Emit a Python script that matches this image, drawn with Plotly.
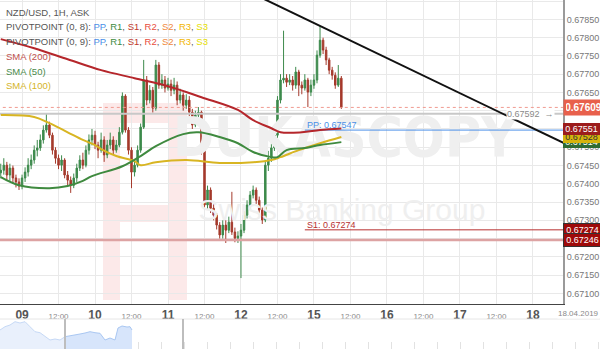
import plotly.graph_objects as go

# ---------------- data ----------------
hours = list(range(-7, 106))  # trading-hour index, 0 = 09 Apr 00:00 (weekend removed)

opens = [0.67430,0.67437,0.67451,0.67424,0.67443,0.67416,0.67405,
         0.67394,0.67416,0.67432,0.67451,0.67465,0.67492,0.67498,0.67520,0.67547,0.67561,
         0.67533,0.67492,0.67470,0.67451,0.67465,0.67424,0.67410,0.67396,0.67416,0.67443,
         0.67465,0.67451,0.67492,0.67520,0.67533,0.67506,0.67492,0.67520,0.67479,0.67506,
         0.67520,0.67492,0.67506,0.67541,0.67640,0.67547,0.67492,0.67432,0.67451,0.67492,
         0.67555,0.67684,0.67629,0.67656,0.67607,0.67725,0.67670,0.67684,0.67662,0.67673,
         0.67656,0.67670,0.67629,0.67643,0.67615,0.67629,0.67596,0.67561,0.67588,0.67596,
         0.67492,0.67342,0.67383,0.67333,0.67314,0.67287,0.67260,0.67287,0.67273,0.67295,
         0.67268,0.67251,0.67257,0.67273,0.67314,0.67342,0.67369,0.67383,0.67355,0.67328,
         0.67301,0.67451,0.67470,0.67498,0.67533,0.67629,0.67684,0.67689,0.67678,0.67684,
         0.67670,0.67706,0.67670,0.67662,0.67684,0.67651,0.67670,0.67684,0.67752,0.67793,
         0.67766,0.67739,0.67711,0.67697,0.67670,0.67689]
highs = [0.67455,0.67470,0.67460,0.67455,0.67450,0.67425,0.67415,
         0.67425,0.67445,0.67470,0.67480,0.67505,0.67520,0.67535,0.67560,0.67591,0.67570,
         0.67540,0.67500,0.67480,0.67478,0.67470,0.67435,0.67420,0.67428,0.67455,0.67478,
         0.67485,0.67505,0.67535,0.67550,0.67545,0.67515,0.67540,0.67530,0.67520,0.67540,
         0.67530,0.67520,0.67555,0.67650,0.67645,0.67555,0.67500,0.67465,0.67505,0.67565,
         0.67739,0.67695,0.67670,0.67665,0.67739,0.67733,0.67700,0.67695,0.67690,0.67685,
         0.67690,0.67680,0.67660,0.67650,0.67645,0.67640,0.67605,0.67600,0.67610,0.67600,
         0.67500,0.67395,0.67390,0.67345,0.67320,0.67295,0.67300,0.67300,0.67310,0.67378,
         0.67280,0.67270,0.67290,0.67325,0.67355,0.67380,0.67395,0.67390,0.67365,0.67335,
         0.67460,0.67490,0.67510,0.67545,0.67640,0.67700,0.67819,0.67700,0.67700,0.67695,
         0.67720,0.67712,0.67680,0.67700,0.67690,0.67685,0.67700,0.67765,0.67832,0.67800,
         0.67775,0.67745,0.67720,0.67705,0.67725,0.67695]
lows = [0.67415,0.67425,0.67410,0.67405,0.67400,0.67390,0.67383,
        0.67385,0.67405,0.67420,0.67440,0.67455,0.67475,0.67490,0.67510,0.67540,0.67525,
        0.67480,0.67455,0.67440,0.67435,0.67415,0.67395,0.67375,0.67388,0.67405,0.67435,
        0.67440,0.67445,0.67480,0.67505,0.67495,0.67470,0.67485,0.67460,0.67470,0.67495,
        0.67480,0.67485,0.67500,0.67535,0.67540,0.67480,0.67388,0.67420,0.67445,0.67485,
        0.67550,0.67615,0.67620,0.67595,0.67600,0.67660,0.67660,0.67650,0.67655,0.67640,
        0.67645,0.67615,0.67620,0.67600,0.67605,0.67585,0.67550,0.67555,0.67575,0.67480,
        0.67330,0.67330,0.67320,0.67300,0.67275,0.67250,0.67250,0.67238,0.67265,0.67260,
        0.67240,0.67238,0.67142,0.67265,0.67305,0.67330,0.67360,0.67345,0.67315,0.67290,
        0.67295,0.67435,0.67460,0.67490,0.67525,0.67620,0.67675,0.67665,0.67670,0.67655,
        0.67660,0.67640,0.67645,0.67655,0.67610,0.67640,0.67660,0.67675,0.67745,0.67755,
        0.67725,0.67700,0.67685,0.67660,0.67665,0.67605]
closes = [0.67437,0.67451,0.67424,0.67443,0.67416,0.67405,0.67394,
          0.67416,0.67432,0.67451,0.67465,0.67492,0.67498,0.67520,0.67547,0.67561,0.67533,
          0.67492,0.67470,0.67451,0.67465,0.67424,0.67410,0.67396,0.67416,0.67443,0.67465,
          0.67451,0.67492,0.67520,0.67533,0.67506,0.67492,0.67520,0.67479,0.67506,0.67520,
          0.67492,0.67506,0.67541,0.67640,0.67547,0.67492,0.67432,0.67451,0.67492,0.67555,
          0.67684,0.67629,0.67656,0.67607,0.67725,0.67670,0.67684,0.67662,0.67673,0.67656,
          0.67670,0.67629,0.67643,0.67615,0.67629,0.67596,0.67561,0.67588,0.67596,0.67492,
          0.67342,0.67383,0.67333,0.67314,0.67287,0.67260,0.67287,0.67273,0.67295,0.67268,
          0.67251,0.67257,0.67273,0.67314,0.67342,0.67369,0.67383,0.67355,0.67328,0.67301,
          0.67451,0.67470,0.67498,0.67533,0.67629,0.67684,0.67689,0.67678,0.67684,0.67670,
          0.67706,0.67670,0.67662,0.67684,0.67651,0.67670,0.67684,0.67752,0.67793,0.67766,
          0.67739,0.67711,0.67697,0.67670,0.67689,0.67609]

sma200_h = [-7, 4, 15, 26, 37, 48, 59, 71, 76, 82, 85, 92, 98, 105]
sma200_v = [0.67796, 0.67771, 0.67741, 0.67711, 0.67689, 0.67667, 0.67637,
            0.67602, 0.67574, 0.67552, 0.67541, 0.67541, 0.67547, 0.67551]
sma50_h = [-7, -1, 9, 15, 20, 23, 33, 39, 44, 53, 58, 65, 71, 76, 82, 84, 87, 93, 98, 105]
sma50_v = [0.67418, 0.67396, 0.67388, 0.67394, 0.67408, 0.67421, 0.67448, 0.67476,
           0.67503, 0.67536, 0.67541, 0.67528, 0.67511, 0.67487, 0.67473, 0.67473,
           0.67492, 0.67498, 0.67506, 0.67514]
sma100_h = [-7, 4, 9, 15, 20, 24, 26, 31, 37, 39, 44, 54, 65, 76, 82, 85, 91, 98, 105]
sma100_v = [0.67588, 0.67583, 0.67566, 0.67541, 0.67520, 0.67506, 0.67495, 0.67476,
            0.67462, 0.67451, 0.67459, 0.67465, 0.67457, 0.67459, 0.67465, 0.67473,
            0.67492, 0.67511, 0.67528]

trend_h = [76, 180]
trend_p = [0.67920, 0.67504]

pivot_start = 93
pivot_pp = 0.67547
pivot_s1 = 0.67274
prev_level = 0.67246
last_price = 0.67609
mid_line = 0.67592
sma200_last, sma100_last, sma50_last = 0.67551, 0.67528, 0.67514

day_tick_h = [0, 12, 24, 36, 48, 60, 72, 84, 96, 108, 120, 132, 144, 156, 168]
day_tick_t = ['09', '12:00', '10', '12:00', '11', '12:00', '12', '12:00',
              '15', '12:00', '16', '12:00', '17', '12:00', '18']
price_ticks = [0.6710, 0.67150, 0.6720, 0.67250, 0.6730, 0.67350, 0.6740, 0.67450,
               0.6750, 0.67550, 0.6760, 0.67650, 0.6770, 0.67750, 0.6780, 0.67850, 0.6790]

nav_t = [0, 5, 10, 15, 20, 25, 30, 35, 40, 45, 50, 55, 60, 65, 70, 75, 80, 85, 90,
         95, 100, 105, 110, 115, 118, 122, 127, 130, 132]
nav_v = [19, 22.3, 24, 27.3, 26, 27.3, 22.3, 17.3, 16.3, 12.3, 9, 10, 9, 12.3, 13, 14,
         15, 16, 17.3, 16.3, 15.7, 9, 11, 9, 21, 23, 22, 22.3, 19]

# ---------------- geometry ----------------
W, H = 600, 349
PLOT_R = 563
PANE_B = 304
X0, X1 = -7.25, 177.9
Y0, Y1 = 0.67071, 0.67903
FONT = 'Liberation Sans, Arial, sans-serif'


def hx(px):
    return X0 + px / PLOT_R * (X1 - X0)


def py(px):
    return Y1 - px / PANE_B * (Y1 - Y0)


def fx(px):
    return px / W


def fy(px):
    return 1 - px / H


fig = go.Figure()

# watermark (drawn first so it sits under everything)
fig.add_trace(go.Scatter(x=[hx(345)], y=[py(142)], mode='text', text=['<b>DUKASCOPY</b>'],
                         textfont=dict(size=55, color='#efefef',
                                       family='Liberation Sans Narrow, DejaVu Sans Condensed, Arial Narrow'),
                         hoverinfo='skip', showlegend=False))
fig.add_trace(go.Scatter(x=[hx(342)], y=[py(212)], mode='text', text=['Swiss Banking Group'],
                         textfont=dict(size=30, color='#efefef', family=FONT),
                         hoverinfo='skip', showlegend=False))

# horizontal levels
fig.add_trace(go.Scatter(x=[X0 - 5, X1 + 5], y=[prev_level] * 2, mode='lines',
                         line=dict(color='#dda3a3', width=2.5), hoverinfo='skip'))
fig.add_trace(go.Scatter(x=[X0 - 5, X1 + 5], y=[mid_line] * 2, mode='lines',
                         line=dict(color='#c8c8c8', width=2), hoverinfo='skip'))
fig.add_trace(go.Scatter(x=[X0 - 5, X1 + 5], y=[last_price] * 2, mode='lines',
                         line=dict(color='#f09a90', width=1, dash='dot'), hoverinfo='skip'))
fig.add_trace(go.Scatter(x=[pivot_start, X1 + 5], y=[pivot_pp] * 2, mode='lines',
                         line=dict(color='#4a8fe8', width=1), hoverinfo='skip'))
fig.add_trace(go.Scatter(x=[pivot_start, X1 + 5], y=[pivot_s1] * 2, mode='lines',
                         line=dict(color='#b83030', width=1), hoverinfo='skip'))

# candles
fig.add_trace(go.Candlestick(x=hours, open=opens, high=highs, low=lows, close=closes,
                             increasing=dict(line=dict(color='#3d8a4c', width=1), fillcolor='#3d8a4c'),
                             decreasing=dict(line=dict(color='#a53a2c', width=1), fillcolor='#a53a2c'),
                             whiskerwidth=0, hoverinfo='skip'))

# moving averages
fig.add_trace(go.Scatter(x=sma200_h, y=sma200_v, mode='lines', line=dict(color='#b5262b', width=2, shape='spline'),
                         hoverinfo='skip'))
fig.add_trace(go.Scatter(x=sma100_h, y=sma100_v, mode='lines', line=dict(color='#d8b522', width=2, shape='spline'),
                         hoverinfo='skip'))
fig.add_trace(go.Scatter(x=sma50_h, y=sma50_v, mode='lines', line=dict(color='#3f8a3f', width=2, shape='spline'),
                         hoverinfo='skip'))

# trend line
fig.add_trace(go.Scatter(x=trend_h, y=trend_p, mode='lines', line=dict(color='#111111', width=2),
                         hoverinfo='skip'))

# navigator
fig.add_trace(go.Scatter(x=[t for t in nav_t if t <= 65], y=[v for t, v in zip(nav_t, nav_v) if t <= 65],
                         mode='lines', fill='tozeroy', fillcolor='#e9f0fc',
                         line=dict(color='#c6d9f6', width=1), xaxis='x2', yaxis='y2', hoverinfo='skip'))
fig.add_trace(go.Scatter(x=[t for t in nav_t if t >= 65], y=[v for t, v in zip(nav_t, nav_v) if t >= 65],
                         mode='lines', fill='tozeroy', fillcolor='#d7e5fb',
                         line=dict(color='#a9c7f2', width=1), xaxis='x2', yaxis='y2', hoverinfo='skip'))

tick_text = []
for t in day_tick_t:
    if ':' in t:
        tick_text.append("<span style='font-size:8px;color:#8a8a8a'>%s</span>" % t)
    else:
        tick_text.append("<b>%s</b>" % t)

fig.update_layout(
    width=W, height=H, margin=dict(l=0, r=0, t=0, b=0),
    paper_bgcolor='white', plot_bgcolor='white', showlegend=False, hovermode=False,
    font=dict(family=FONT),
    xaxis=dict(domain=[0, PLOT_R / W], range=[X0, X1], anchor='y',
               tickvals=day_tick_h, ticktext=tick_text, tickfont=dict(size=12, color='#555555'),
               showgrid=True, gridcolor='#e9e9e9', gridwidth=1, zeroline=False,
               showline=True, linecolor='#444444', linewidth=1, ticks='',
               rangeslider=dict(visible=False)),
    yaxis=dict(domain=[1 - PANE_B / H, 1], range=[Y0, Y1], side='right', anchor='x',
               tickvals=price_ticks, ticktext=['%.5f' % v for v in price_ticks],
               tickfont=dict(size=9, color='#777777'), showgrid=True, gridcolor='#e9e9e9',
               zeroline=False, showline=True, linecolor='#9a9a9a', linewidth=2, ticks=''),
    xaxis2=dict(domain=[0, 1], range=[0, 600], anchor='y2', showgrid=False, zeroline=False,
                showline=False, showticklabels=False, ticks='inside', ticklen=7,
                tickcolor='#e2e2e2', tickwidth=1, tickvals=list(range(138, 600, 23))),
    yaxis2=dict(domain=[0, 31 / H], range=[0, 31], visible=False),
)

shapes = []
# pink logo of the watermark
shapes.append(dict(type='rect', xref='paper', yref='paper', x0=fx(103), x1=fx(187), y0=fy(300), y1=fy(103),
                   fillcolor='#fce9e9', line=dict(width=0), layer='below'))
shapes.append(dict(type='rect', xref='paper', yref='paper', x0=fx(120), x1=fx(168), y0=fy(205), y1=fy(123),
                   fillcolor='#ffffff', line=dict(width=0), layer='below'))
shapes.append(dict(type='rect', xref='paper', yref='paper', x0=fx(120), x1=fx(168), y0=fy(300), y1=fy(222),
                   fillcolor='#ffffff', line=dict(width=0), layer='below'))
# navigator borders
shapes.append(dict(type='line', xref='paper', yref='paper', x0=0, x1=1, y0=fy(319), y1=fy(319),
                   line=dict(color='#e6e6e6', width=1)))
for sx in (65, 183):
    shapes.append(dict(type='line', xref='x2', yref='paper', x0=sx, x1=sx, y0=0, y1=fy(319),
                       line=dict(color='#bdbdbd', width=2)))
fig.update_layout(shapes=shapes)

ann = []
# legend text top-left
pp_tokens = [('PP', '#4a8fe8'), ('R1', '#3d8b3d'), ('S1', '#c0392b'), ('R2', '#e84c3d'),
             ('S2', '#f0883a'), ('R3', '#f2b600'), ('S3', '#e6de00')]
tok = ', '.join("<span style='color:%s'>%s</span>" % (c, t) for t, c in pp_tokens)
legend_lines = [
    ('NZD/USD, 1H, ASK', '#555555'),
    ('PIVOTPOINT (0, 8): ' + tok, '#555555'),
    ('PIVOTPOINT (0, 9): ' + tok, '#555555'),
    ('SMA (200)', '#c0504d'),
    ('SMA (50)', '#4a8a4a'),
    ('SMA (100)', '#d4b428'),
]
for i, (txt, col) in enumerate(legend_lines):
    ann.append(dict(x=fx(4), y=fy(12 + 14.8 * i), xref='paper', yref='paper', text=txt, showarrow=False,
                    xanchor='left', yanchor='middle', font=dict(size=9.5, color=col, family=FONT)))

# pivot labels
ann.append(dict(x=pivot_start, y=pivot_pp, xref='x', yref='y', text='PP: 0.67547', showarrow=False,
                xanchor='left', yanchor='bottom', yshift=-2, font=dict(size=9, color='#4a8fe8')))
ann.append(dict(x=pivot_start, y=pivot_s1, xref='x', yref='y', text='S1: 0.67274', showarrow=False,
                xanchor='left', yanchor='bottom', yshift=-2, font=dict(size=9, color='#b83030')))
# label on the grey line
ann.append(dict(x=fx(530), y=mid_line, xref='paper', yref='y', text='0.67592  →', showarrow=False,
                xanchor='center', yanchor='middle', bgcolor='white', borderpad=0,
                font=dict(size=9, color='#8a8a8a')))

# right-hand value boxes
boxes = [
    (sma50_last, '%.5f' % sma50_last, '#2f6b32', 'white', None),
    (sma100_last, '%.5f' % sma100_last, '#d6b30c', '#333333', None),
    (sma200_last, '%.5f' % sma200_last, '#9c1c1c', 'white', None),
    (pivot_s1, '%.5f' % pivot_s1, '#9e0a0a', 'white', '#333333'),
    (prev_level, '%.5f' % prev_level, '#9e0a0a', 'white', '#333333'),
]
for v, t, bg, fc, bc in boxes:
    ann.append(dict(x=fx(PLOT_R), y=v, xref='paper', yref='y', text=t, showarrow=False,
                    xanchor='left', yanchor='middle', bgcolor=bg, width=35, borderpad=1,
                    bordercolor=bc if bc else bg, borderwidth=1 if bc else 0,
                    font=dict(size=9, color=fc, family=FONT)))
ann.append(dict(x=fx(PLOT_R), y=last_price, xref='paper', yref='y', text='<b>%.5f</b>' % last_price,
                showarrow=False, xanchor='left', yanchor='middle', bgcolor='#e8604c', width=35,
                borderpad=2, font=dict(size=10, color='white', family=FONT)))

# right end date label
ann.append(dict(x=fx(566), y=fy(313), xref='paper', yref='paper', text='12', showarrow=False,
                xanchor='center', yanchor='middle', font=dict(size=8, color='#8a8a8a')))
ann.append(dict(x=1, y=fy(313), xref='paper', yref='paper', text='18.04.2019', showarrow=False,
                xanchor='right', yanchor='middle', bgcolor='white', borderpad=0,
                font=dict(size=8, color='#8a8a8a')))
fig.update_layout(annotations=ann)

fig.write_html('out.html')
